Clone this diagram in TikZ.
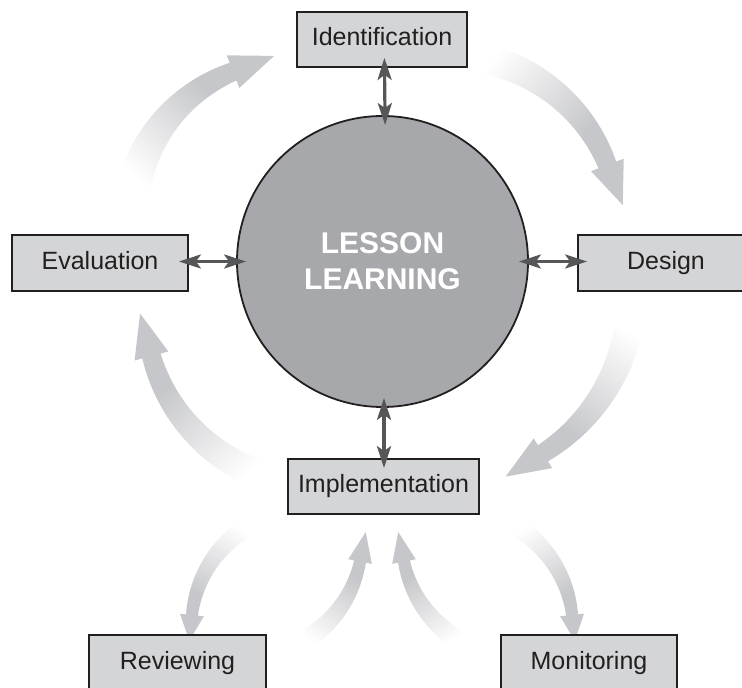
\documentclass[tikz,border=0pt]{standalone}
\usepackage{fontspec}
\setmainfont{Liberation Sans}
\usetikzlibrary{arrows.meta}
\definecolor{agray}{RGB}{198,199,202}
\definecolor{boxfill}{RGB}{212,213,215}
\definecolor{circfill}{RGB}{167,168,172}
\definecolor{ink}{RGB}{35,31,32}
\definecolor{darrow}{RGB}{85,86,88}
\pgfdeclareverticalshading{arrowfade}{100bp}{color(0bp)=(white); color(30bp)=(white); color(64bp)=(agray); color(100bp)=(agray)}
\newcommand{\fadearrow}[9]{%
  \pgfmathsetmacro{\arCx}{#1}%
  \pgfmathsetmacro{\arCy}{#2}%
  \pgfmathsetmacro{\arR}{#3}%
  \pgfmathsetmacro{\arA}{#4}%
  \pgfmathsetmacro{\arB}{#5}%
  \pgfmathsetmacro{\arWa}{#6}%
  \pgfmathsetmacro{\arWb}{#7}%
  \pgfmathsetmacro{\arHw}{#8}%
  \pgfmathsetmacro{\arHl}{#9}%
  \pgfmathsetmacro{\arSg}{((\arB)>(\arA))?1:-1}%
  \pgfmathsetmacro{\arD}{(\arB)+(\arSg)*90}%
  \pgfmathsetmacro{\arBx}{\arCx+\arR*cos(\arB)}%
  \pgfmathsetmacro{\arBy}{\arCy+\arR*sin(\arB)}%
  \pgfmathsetmacro{\arTx}{\arBx+\arHl*cos(\arD)}%
  \pgfmathsetmacro{\arTy}{\arBy+\arHl*sin(\arD)}%
  \pgfmathsetmacro{\arSx}{\arCx+\arR*cos(\arA)}%
  \pgfmathsetmacro{\arSy}{\arCy+\arR*sin(\arA)}%
  \pgfmathsetmacro{\arSa}{atan2((\arTy)-(\arSy),(\arTx)-(\arSx))-90}%
  \shade[shading=arrowfade, shading angle=\arSa]
    plot[domain=\arA:\arB, samples=40, variable=\t] ({\arCx+(\arR+((\arWa)+((\arWb)-(\arWa))*(\t-(\arA))/((\arB)-(\arA)))/2)*cos(\t)},{\arCy+(\arR+((\arWa)+((\arWb)-(\arWa))*(\t-(\arA))/((\arB)-(\arA)))/2)*sin(\t)})
    -- ({\arCx+(\arR+\arHw/2)*cos(\arB)},{\arCy+(\arR+\arHw/2)*sin(\arB)})
    -- (\arTx,\arTy)
    -- ({\arCx+(\arR-\arHw/2)*cos(\arB)},{\arCy+(\arR-\arHw/2)*sin(\arB)})
    -- plot[domain=\arB:\arA, samples=40, variable=\t] ({\arCx+(\arR-((\arWa)+((\arWb)-(\arWa))*(\t-(\arA))/((\arB)-(\arA)))/2)*cos(\t)},{\arCy+(\arR-((\arWa)+((\arWb)-(\arWa))*(\t-(\arA))/((\arB)-(\arA)))/2)*sin(\t)})
    -- cycle;
}
\begin{document}
\begin{tikzpicture}[x=1pt,y=1pt,
  box/.style={draw=ink, line width=1.8pt, fill=boxfill, minimum height=55pt, inner sep=0pt, text=ink, font=\fontsize{25}{30}\selectfont, text height=18pt, text depth=5pt},
  hub/.style={circle, draw=ink, line width=1.8pt, fill=circfill, minimum size=291pt, inner sep=0pt, text=white, align=center, font=\bfseries\fontsize{30}{36}\selectfont},
  dbl/.style={draw=darrow, line width=3.2pt, {Stealth[length=22pt,width=14pt,inset=5pt]}-{Stealth[length=22pt,width=14pt,inset=5pt]}, shorten <=-10pt, shorten >=-10pt}]
\useasboundingbox (0,0) rectangle (742,688);
\clip (0,0) rectangle (742,688);
% fading cycle arrows
\fadearrow{290.7}{466}{161}{180}{111}{38}{19}{35}{44}
\fadearrow{446.8}{461.4}{172}{92}{21}{34}{19}{35}{43}
\fadearrow{442.8}{395}{189}{3}{-58}{32}{19}{35}{44}
\fadearrow{320.5}{377.3}{175}{262}{195}{32}{19}{35}{44}
\fadearrow{309}{60.7}{117.7}{110.4}{174}{21}{12}{24}{26}
\fadearrow{243.6}{149.1}{118.6}{-69.6}{-11}{22}{12}{24}{30}
\fadearrow{520.4}{149.1}{118.6}{249.6}{191}{22}{12}{24}{30}
\fadearrow{455}{60.7}{117.7}{69.6}{6}{21}{12}{24}{26}
% hub and boxes
\node[hub] (circ) at (382.5,426.5) {LESSON\\LEARNING};
\node[box, minimum width=170pt] (ident) at (382,648.5) {Identification};
\node[box, minimum width=176pt, minimum height=56pt] (eval) at (100,425) {Evaluation};
\node[box, minimum width=176pt, minimum height=56pt] (design) at (666,425) {Design};
\node[box, minimum width=191pt] (impl) at (383.5,201.5) {Implementation};
\node[box, minimum width=177pt, minimum height=56pt] (review) at (177.5,25) {Reviewing};
\node[box, minimum width=176pt, minimum height=56pt] (monitor) at (589,25) {Monitoring};
% double arrows
\draw[dbl] ([xshift=2.5pt]ident.south) -- ([xshift=2.5pt]circ.north);
\draw[dbl] (eval.east |- circ.west) -- (circ.west);
\draw[dbl] (circ.east) -- (design.west |- circ.east);
\draw[dbl] ([xshift=1.5pt]circ.south) -- ([xshift=1.5pt]circ.south |- impl.north);
\end{tikzpicture}
\end{document}
